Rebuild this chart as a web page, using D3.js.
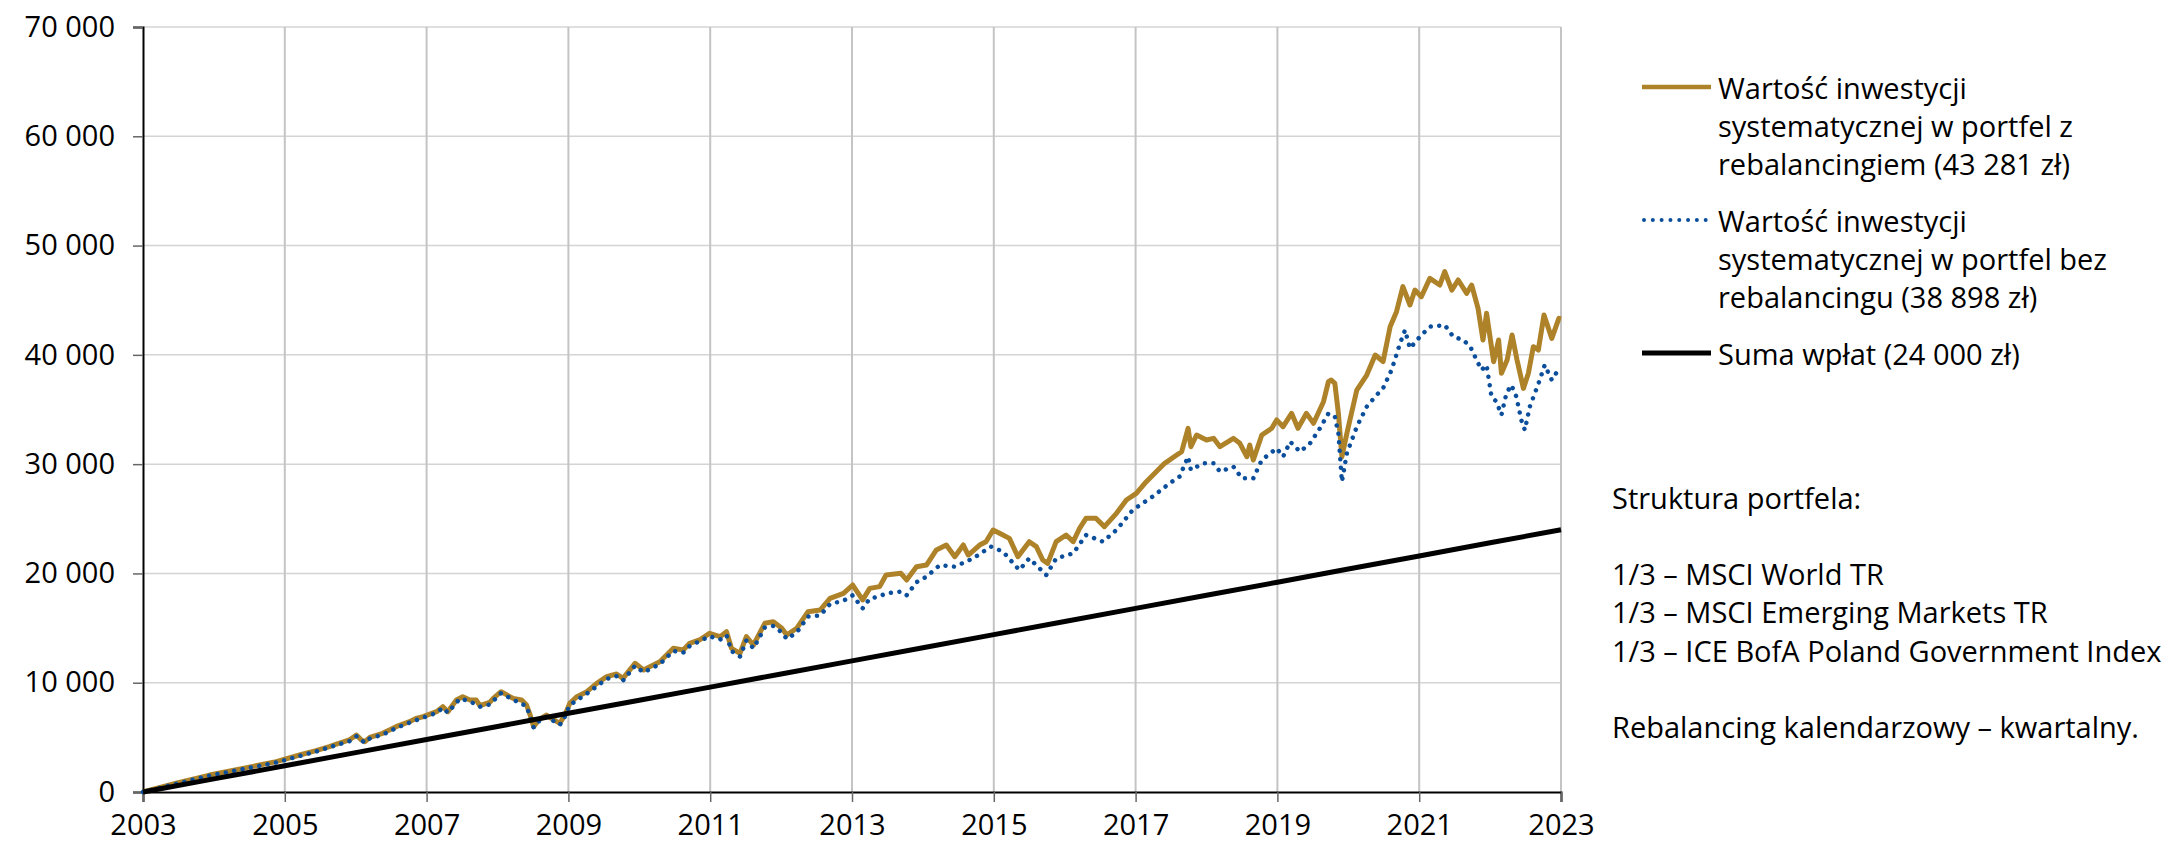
<!DOCTYPE html>
<html><head><meta charset="utf-8">
<script src="https://cdn.jsdelivr.net/npm/d3@7"></script>
<style>
html,body{margin:0;padding:0;background:#fff;}
text{font-family:"Open Sans",sans-serif;fill:#000;}
</style>
</head><body>
<svg id="chart" width="2178" height="845"></svg>
<script>
// ---- data ----
const yearTicks = [2003, 2005, 2007, 2009, 2011, 2013, 2015, 2017, 2019, 2021, 2023];
const valueTicks = [0, 10000, 20000, 30000, 40000, 50000, 60000, 70000];

const goldYears = [2003.00,2003.47,2003.94,2004.41,2004.88,2005.21,2005.44,2005.63,2005.73,2005.91,2006.01,2006.08,2006.13,2006.20,2006.38,2006.57,2006.76,2006.85,2006.95,2007.14,2007.23,2007.30,2007.42,2007.51,2007.61,2007.70,2007.75,2007.89,2007.94,2008.05,2008.22,2008.34,2008.41,2008.46,2008.51,2008.58,2008.69,2008.76,2008.88,2008.95,2009.02,2009.12,2009.26,2009.40,2009.54,2009.68,2009.77,2009.94,2010.06,2010.15,2010.29,2010.48,2010.62,2010.71,2010.85,2010.99,2011.14,2011.23,2011.30,2011.42,2011.51,2011.61,2011.77,2011.89,2012.01,2012.08,2012.22,2012.38,2012.55,2012.69,2012.88,2013.01,2013.15,2013.25,2013.39,2013.48,2013.69,2013.77,2013.91,2014.05,2014.19,2014.33,2014.45,2014.57,2014.64,2014.80,2014.89,2014.99,2015.13,2015.22,2015.34,2015.50,2015.60,2015.69,2015.76,2015.88,2016.02,2016.12,2016.21,2016.30,2016.44,2016.56,2016.73,2016.87,2017.01,2017.13,2017.27,2017.41,2017.58,2017.65,2017.74,2017.78,2017.86,2018.00,2018.10,2018.19,2018.38,2018.47,2018.57,2018.61,2018.66,2018.78,2018.92,2018.99,2019.08,2019.20,2019.29,2019.41,2019.51,2019.65,2019.72,2019.76,2019.81,2019.86,2019.91,2019.98,2020.12,2020.26,2020.38,2020.49,2020.59,2020.68,2020.77,2020.87,2020.94,2021.03,2021.15,2021.29,2021.36,2021.46,2021.55,2021.67,2021.74,2021.83,2021.90,2021.95,2022.05,2022.12,2022.16,2022.24,2022.31,2022.38,2022.47,2022.54,2022.61,2022.68,2022.76,2022.87,2022.97,2023.00];
const goldValues = [0,800,1550,2165,2775,3385,3780,4150,4390,4760,5216,4760,4605,5000,5370,5980,6435,6740,6890,7350,7810,7350,8420,8720,8420,8420,7900,8200,8570,9180,8570,8420,7960,7045,5975,6590,7045,6740,6285,7045,8115,8720,9180,9945,10555,10800,10400,11775,11165,11470,11925,13150,13000,13605,13910,14520,14210,14670,13150,12690,14210,13450,15435,15585,14980,14365,14980,16500,16650,17720,18180,18940,17570,18635,18790,19855,20010,19400,20615,20770,22145,22600,21530,22600,21685,22600,22905,23975,23515,23210,21530,22905,22450,21230,20925,22905,23515,22905,24130,25045,25045,24280,25500,26720,27330,28245,29160,30075,30835,31140,33280,31600,32665,32210,32360,31600,32360,31905,30680,31750,30380,32665,33280,34040,33430,34650,33280,34650,33735,35715,37545,37700,37395,34650,30680,32820,36780,38155,39985,39375,42575,43950,46240,44560,45930,45320,47000,46390,47610,45930,46850,45630,46390,44255,41360,43800,39375,41360,38310,39530,41815,39530,36935,38310,40750,40445,43645,41510,43340,43281];

const blueYears = [2003.00,2003.47,2003.94,2004.41,2004.88,2005.21,2005.44,2005.73,2005.91,2006.01,2006.13,2006.20,2006.38,2006.57,2006.76,2006.95,2007.14,2007.23,2007.30,2007.47,2007.61,2007.75,2007.89,2008.05,2008.22,2008.41,2008.46,2008.51,2008.58,2008.69,2008.88,2008.95,2009.02,2009.26,2009.54,2009.68,2009.77,2009.94,2010.06,2010.29,2010.48,2010.62,2010.71,2010.99,2011.14,2011.23,2011.30,2011.42,2011.51,2011.61,2011.77,2011.89,2012.01,2012.08,2012.22,2012.38,2012.55,2012.69,2012.88,2013.01,2013.15,2013.25,2013.39,2013.48,2013.69,2013.77,2013.91,2014.05,2014.24,2014.45,2014.71,2014.96,2015.13,2015.36,2015.50,2015.74,2015.88,2016.12,2016.30,2016.54,2016.73,2016.96,2017.24,2017.48,2017.62,2017.74,2017.78,2017.95,2018.10,2018.19,2018.38,2018.50,2018.66,2018.78,2018.99,2019.08,2019.18,2019.32,2019.46,2019.60,2019.72,2019.81,2019.86,2019.91,2019.98,2020.12,2020.26,2020.40,2020.49,2020.61,2020.73,2020.80,2020.87,2021.01,2021.15,2021.36,2021.48,2021.62,2021.72,2021.81,2021.88,2021.95,2022.02,2022.09,2022.16,2022.23,2022.30,2022.37,2022.44,2022.49,2022.56,2022.63,2022.70,2022.77,2022.87,2022.96,2023.00];
const blueValues = [0,750,1500,2100,2700,3300,3700,4300,4650,5100,4500,4900,5250,5850,6350,6800,7250,7700,7250,8550,8300,7800,8000,9050,8450,7850,6900,5900,6450,6900,6150,6900,7950,9000,10350,10600,10200,11550,10950,11700,12900,12750,13350,14250,13950,14350,12900,12400,13850,13150,15050,15200,14600,14000,14600,16050,16150,17200,17500,18000,16800,17700,17900,18180,18330,18000,19200,19700,20770,20615,21380,22450,21990,20310,21380,19855,21380,21840,23515,22905,23975,25805,27025,28245,28855,30680,29465,30075,30075,29310,29770,28700,28700,30380,31450,30680,32055,31140,31905,33280,34650,34345,32820,28395,30990,33430,35255,36325,36935,38610,41055,42270,40595,41665,42575,42730,41665,41360,40750,39530,38610,39070,36170,35715,34500,36475,37240,36170,34040,33125,35255,36475,37700,39070,37700,38610,38898];

const depositYears = [2003,2004,2005,2006,2007,2008,2009,2010,2011,2012,2013,2014,2015,2016,2017,2018,2019,2020,2021,2022,2023];
const depositValues = [0,1200,2400,3600,4800,6000,7200,8400,9600,10800,12000,13200,14400,15600,16800,18000,19200,20400,21600,22800,24000];

const seriesLabels = [
  ["Wartość inwestycji", "systematycznej w portfel z", "rebalancingiem (43 281 zł)"],
  ["Wartość inwestycji", "systematycznej w portfel bez", "rebalancingu (38 898 zł)"],
  ["Suma wpłat (24 000 zł)"]
];
const noteLines = ["Struktura portfela:", "", "1/3 – MSCI World TR", "1/3 – MSCI Emerging Markets TR", "1/3 – ICE BofA Poland Government Index", "", "Rebalancing kalendarzowy – kwartalny."];

// ---- layout ----
const svg = d3.select("#chart");
const L = 143, R = 1561, T = 27, B = 792;
const x = d3.scaleLinear().domain([2003, 2023]).range([L, R]);
const y = d3.scaleLinear().domain([0, 70000]).range([B, T]);
const fmt = d3.formatLocale({decimal: ",", thousands: " ", grouping: [3], currency: ["", ""]}).format(",");
const FONT = 29;

// grid
svg.append("g").selectAll("line").data(valueTicks.filter(v => v > 0)).join("line")
  .attr("x1", L).attr("x2", R).attr("y1", d => y(d)).attr("y2", d => y(d))
  .attr("stroke", "#d4d4d4").attr("stroke-width", 1.5);
svg.append("g").selectAll("line").data(yearTicks.filter(v => v > 2003)).join("line")
  .attr("x1", d => x(d)).attr("x2", d => x(d)).attr("y1", T).attr("y2", B)
  .attr("stroke", "#c4c4c4").attr("stroke-width", 2);

// axes
const yAxis = svg.append("g").attr("transform", `translate(${L},0)`)
  .call(d3.axisLeft(y).tickValues(valueTicks).tickFormat(fmt).tickSize(10).tickPadding(18));
const xAxis = svg.append("g").attr("transform", `translate(0,${B})`)
  .call(d3.axisBottom(x).tickValues(yearTicks).tickFormat(d3.format("d")).tickSize(10).tickPadding(12));
[yAxis, xAxis].forEach(g => {
  g.select(".domain").attr("stroke", "#000").attr("stroke-width", 2);
  g.selectAll(".tick line").attr("stroke", "#666").attr("stroke-width", 1.5);
  g.selectAll(".tick text").attr("font-size", FONT).attr("font-family", '"Open Sans", sans-serif').attr("fill", "#000");
});

// lines
const line = d3.line().x(d => x(d[0])).y(d => y(d[1]));
const gold = goldYears.map((t, i) => [t, goldValues[i]]);
const blue = blueYears.map((t, i) => [t, blueValues[i]]);
const dep = depositYears.map((t, i) => [t, depositValues[i]]);
const GOLD = "#AE8228", BLUE = "#0B4F9C";
svg.append("path").datum(gold).attr("d", line).attr("fill", "none")
  .attr("stroke", GOLD).attr("stroke-width", 5).attr("stroke-linejoin", "round");
svg.append("path").datum(blue).attr("d", line).attr("fill", "none")
  .attr("stroke", BLUE).attr("stroke-width", 4.5).attr("stroke-linecap", "round")
  .attr("stroke-dasharray", "0.01 8.5");
svg.append("path").datum(dep).attr("d", line).attr("fill", "none")
  .attr("stroke", "#000").attr("stroke-width", 5);

// legend
const legendY = [87, 220, 353];
const styles = [
  {stroke: GOLD, w: 4.5, dash: null, cap: "butt"},
  {stroke: BLUE, w: 4, dash: "0.01 8.8", cap: "round"},
  {stroke: "#000", w: 5, dash: null, cap: "butt"}
];
seriesLabels.forEach((lines, i) => {
  const g = svg.append("g");
  const s = styles[i];
  g.append("line").attr("x1", i === 1 ? 1644 : 1642).attr("x2", i === 1 ? 1706 : 1711)
    .attr("y1", legendY[i]).attr("y2", legendY[i])
    .attr("stroke", s.stroke).attr("stroke-width", s.w).attr("stroke-linecap", s.cap)
    .attr("stroke-dasharray", s.dash);
  const t = g.append("text").attr("x", 1718).attr("y", legendY[i]).attr("font-size", FONT).attr("dominant-baseline", "central");
  lines.forEach((ln, j) => t.append("tspan").attr("x", 1718).attr("y", legendY[i] + j * 38).attr("dominant-baseline", "central").text(ln));
});

// note
const note = svg.append("text").attr("font-size", FONT);
noteLines.forEach((ln, j) => {
  if (ln) note.append("tspan").attr("x", 1612).attr("y", 497 + j * 38.3).attr("dominant-baseline", "central").text(ln);
});
</script>
</body></html>
